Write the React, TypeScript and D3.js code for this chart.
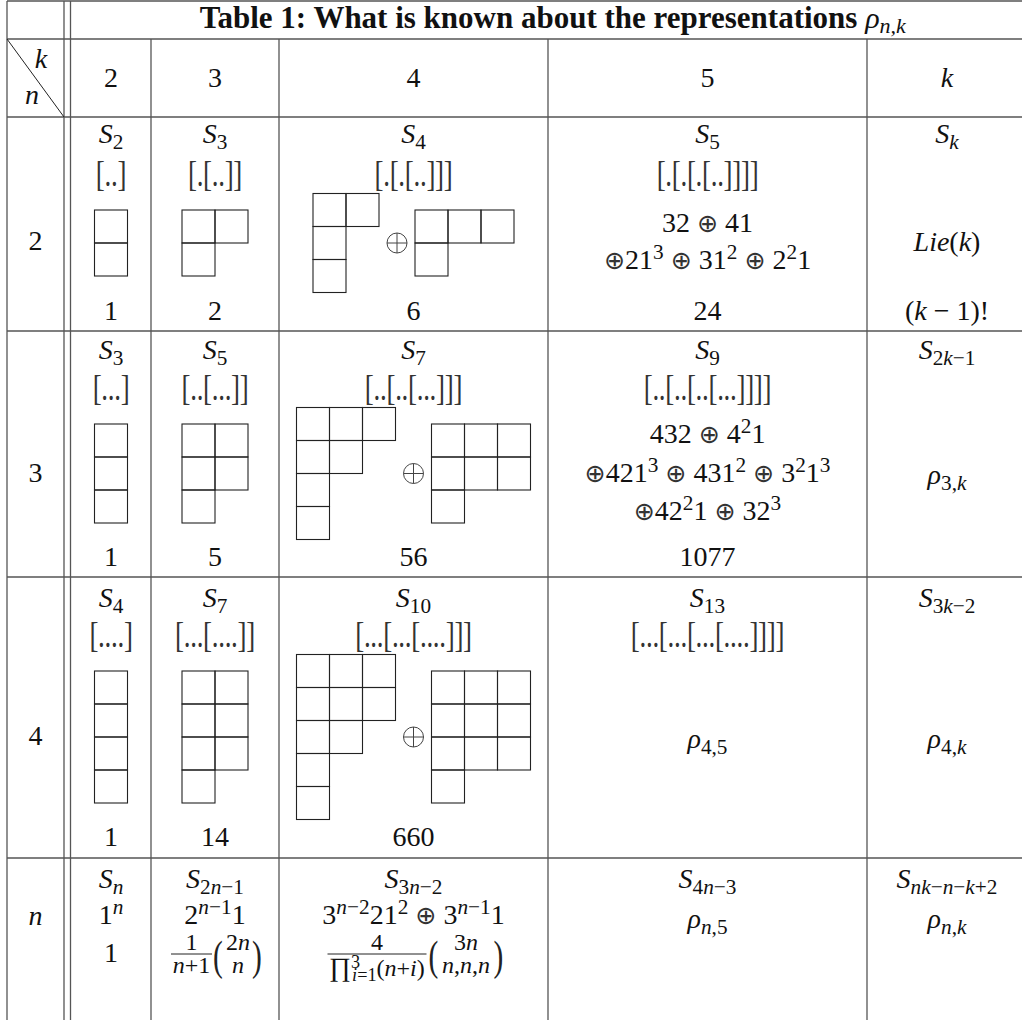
import React from "react";
import * as d3 from "d3";

// ---------- data ----------
const titleText = "Table 1: What is known about the representations ";
const titleMath = "ρ_{n,k}";
const colLabels = ["2", "3", "4", "5", "k"];
const rowLabels = ["2", "3", "4", "n"];
const groupLabels = [
  ["S_2", "S_3", "S_4", "S_5", "S_k"],
  ["S_3", "S_5", "S_7", "S_9", "S_{2k−1}"],
  ["S_4", "S_7", "S_{10}", "S_{13}", "S_{3k−2}"],
  ["S_n", "S_{2n−1}", "S_{3n−2}", "S_{4n−3}", "S_{nk−n−k+2}"],
];
const bracketWords = [
  ["[..]", "[.[..]]", "[.[.[..]]]", "[.[.[.[..]]]]"],
  ["[...]", "[..[...]]", "[..[..[...]]]", "[..[..[..[...]]]]"],
  ["[....]", "[...[....]]", "[...[...[....]]]", "[...[...[...[....]]]]"],
];
// Young diagrams (row lengths) for columns k = 2, 3, 4
const shapes: number[][][][] = [
  [[[1, 1]], [[2, 1]], [[2, 1, 1], [3, 1]]],
  [[[1, 1, 1]], [[2, 2, 1]], [[3, 2, 1, 1], [3, 3, 1]]],
  [[[1, 1, 1, 1]], [[2, 2, 2, 1]], [[3, 3, 2, 1, 1], [3, 3, 3, 1]]],
];
const dims = [
  ["1", "2", "6", "24", "(k − 1)!"],
  ["1", "5", "56", "1077", ""],
  ["1", "14", "660", "", ""],
];
const col5Lines = [
  ["32 ⊕ 41", "⊕21^3 ⊕ 31^2 ⊕ 2^21"],
  ["432 ⊕ 4^21", "⊕421^3 ⊕ 431^2 ⊕ 3^21^3", "⊕42^21 ⊕ 32^3"],
  ["ρ_{4,5}"],
];
const kColumn = ["Lie(k)", "ρ_{3,k}", "ρ_{4,k}"];
const generalRow = ["1^n", "2^{n−1}1", "3^{n−2}21^2 ⊕ 3^{n−1}1", "ρ_{n,5}", "ρ_{n,k}"];
const generalDim1 = "1";
const catalanNum = "1";
const catalanDen = "n+1";
const catalanTop = "2n";
const catalanBot = "n";
const triNum = "4";
const triTop = "3n";
const triBot = "n,n,n";

// ---------- layout ----------
const W = 1022;
const H = 1020;
const FONT = "'Liberation Serif', 'DejaVu Serif', serif";
const FS = 28;
const INK = "#111";
const LINE = "#555";
const xLines = [7, 64, 70.5, 151, 279, 548, 867, 1027];
const colX = [35.5, 111, 215, 413.5, 707.5, 947];
const yTop = 1, yTitle = 39, yHead = 117;
const rowTops = [117, 331, 577, 858];
const rowSBase = [143, 359, 607, 888];
const rowBrBase = [184, 398, 645];
const rowDiagC = [243, 473.5, 737];
const rowDimBase = [320, 566, 846];
const rowLabelBase = [250, 482, 745, 925];
const col5Base = [[232, 269], [443, 482, 520], [748]];
const kColBase = [251, 484, 748];
const BOX = 33;
const SCRIPT = 0.76;

type Seg = { t: string; it: boolean; lvl: number; dx?: number; fam?: string; big?: number };

function parse(s: string): Seg[] {
  const out: Seg[] = [];
  const push = (ch: string, lvl: number) => {
    const it = /[A-Za-zρ]/.test(ch);
    const op = ch === "⊕";
    const last = out[out.length - 1];
    if (last && !op && !last.fam && last.it === it && last.lvl === lvl) last.t += ch;
    else out.push({ t: ch, it, lvl, fam: op ? "'DejaVu Sans'" : undefined });
  };
  let i = 0;
  while (i < s.length) {
    const c = s[i];
    if (c === "_" || c === "^") {
      const lvl = c === "_" ? 1 : -1;
      i++;
      if (s[i] === "{") {
        const j = s.indexOf("}", i);
        for (const ch of s.slice(i + 1, j)) push(ch, lvl);
        i = j + 1;
      } else {
        push(s[i], lvl);
        i++;
      }
    } else {
      push(c, 0);
      i++;
    }
  }
  return out;
}

function Rich({ x, y, s, segs, size = FS, anchor = "middle" }: any) {
  const list: Seg[] = segs ?? parse(s);
  let cur = 0;
  return (
    <text x={x} y={y} fontSize={size} textAnchor={anchor} fontFamily={FONT} fill={INK}
      style={{ whiteSpace: "pre" }}>
      {list.map((g, k) => {
        const off = g.lvl === 1 ? 0.2 * size : g.lvl === -1 ? -0.34 * size : 0;
        const dy = off - cur;
        cur = off;
        const fs = g.lvl ? size * SCRIPT : g.fam ? size * 0.9 : g.big ? size * g.big : size;
        return (
          <tspan key={k} dy={dy} dx={g.dx} fontStyle={g.it ? "italic" : "normal"}
            fontSize={fs} fontFamily={g.fam} fill={g.fam ? "#333" : undefined}>
            {g.t}
          </tspan>
        );
      })}
    </text>
  );
}

function Diagram({ rows, x0, y0 }: { rows: number[]; x0: number; y0: number }) {
  const xs = d3.scaleLinear().domain([0, 1]).range([x0, x0 + BOX]);
  const ys = d3.scaleLinear().domain([0, 1]).range([y0, y0 + BOX]);
  const cells: [number, number][] = [];
  rows.forEach((len, i) => d3.range(len).forEach((j) => cells.push([i, j])));
  return (
    <g>
      {cells.map(([i, j]) => (
        <rect key={i + "-" + j} x={xs(j)} y={ys(i)} width={BOX} height={BOX}
          fill="none" stroke="#222" strokeWidth={1.1} />
      ))}
    </g>
  );
}

function Oplus({ cx, cy }: { cx: number; cy: number }) {
  const r = 10;
  const p = d3.path();
  p.moveTo(cx - r, cy); p.lineTo(cx + r, cy);
  p.moveTo(cx, cy - r); p.lineTo(cx, cy + r);
  return (
    <g stroke="#444" strokeWidth={1} fill="none">
      <circle cx={cx} cy={cy} r={r} />
      <path d={p.toString()} />
    </g>
  );
}

function DiagramCell({ list, cx, cy }: { list: number[][]; cx: number; cy: number }) {
  const widths = list.map((r) => d3.max(r)! * BOX);
  const heights = list.map((r) => r.length * BOX);
  const gap = 36;
  const total = d3.sum(widths) + gap * (list.length - 1);
  let x = cx - total / 2;
  const items: React.ReactNode[] = [];
  list.forEach((rows, k) => {
    items.push(<Diagram key={"d" + k} rows={rows} x0={x} y0={cy - heights[k] / 2} />);
    x += widths[k];
    if (k < list.length - 1) {
      items.push(<Oplus key={"o" + k} cx={x + gap / 2} cy={cy} />);
      x += gap;
    }
  });
  return <g>{items}</g>;
}

function Paren({ x, y, open }: { x: number; y: number; open: boolean }) {
  return (
    <text x={x} y={y} fontSize={42} textAnchor="middle" fontFamily={FONT} fill="#222"
      fontWeight="300"
      transform={`translate(${x},${y}) scale(0.7,1) translate(${-x},${-y})`}>
      {open ? "(" : ")"}
    </text>
  );
}

function Brackets({ x, y, s }: { x: number; y: number; s: string }) {
  const c = y - 7;
  return (
    <text x={x} y={y} fontSize={27} textAnchor="middle" fontFamily={FONT} fill="#333"
      letterSpacing={-0.3}
      transform={`translate(0,${c}) scale(1,1.3) translate(0,${-c})`}>
      {s}
    </text>
  );
}

export default function App() {
  const bigRows = [0, 1, 2];
  const fracFS = 24;
  const barY = 954;
  const c2 = colX[2], c3 = colX[3];
  return (
    <svg width={W} height={H} style={{ position: "absolute", left: 0, top: 0, background: "#fff" }}>
      {/* grid lines */}
      <g stroke={LINE} strokeWidth={1.3} fill="none">
        <line x1={xLines[0]} x2={W} y1={yTop} y2={yTop} />
        <line x1={xLines[0]} x2={W} y1={yTitle} y2={yTitle} />
        {rowTops.map((y) => (
          <line key={y} x1={xLines[0]} x2={W} y1={y} y2={y} />
        ))}
        {xLines.slice(0, 3).map((x) => (
          <line key={x} x1={x} x2={x} y1={yTop} y2={H} />
        ))}
        {xLines.slice(3).map((x) => (
          <line key={x} x1={x} x2={x} y1={yTitle} y2={H} />
        ))}
        <line x1={xLines[0]} y1={yTitle} x2={xLines[1]} y2={yHead} stroke="#222" strokeWidth={1} />
      </g>

      {/* title */}
      <text x={(xLines[2] + xLines[7]) / 2 + 4} y={28} fontSize={31} textAnchor="middle"
        fontFamily={FONT} fill={INK} style={{ whiteSpace: "pre" }}>
        <tspan fontWeight="bold">{titleText}</tspan>
        {parse(titleMath).map((g, k) => (
          <tspan key={k} fontStyle="italic" fontSize={g.lvl ? 22 : 30} dy={k === 0 ? 0 : k === 1 ? 5 : 0}>
            {g.t}
          </tspan>
        ))}
      </text>

      {/* corner */}
      <Rich x={41} y={68} s="k" />
      <Rich x={32} y={104} s="n" />

      {/* column header */}
      {colLabels.map((c, i) => (
        <Rich key={c} x={colX[i + 1]} y={87} s={c} />
      ))}

      {/* row labels */}
      {rowLabels.map((r, i) => (
        <Rich key={r} x={colX[0]} y={rowLabelBase[i]} s={r} />
      ))}

      {/* group labels */}
      {groupLabels.map((row, i) =>
        row.map((g, j) => <Rich key={i + "-" + j} x={colX[j + 1]} y={rowSBase[i]} s={g} />)
      )}

      {/* bracket words */}
      {bracketWords.map((row, i) =>
        row.map((b, j) => <Brackets key={i + "-" + j} x={colX[j + 1]} y={rowBrBase[i]} s={b} />)
      )}

      {/* Young diagrams */}
      {bigRows.map((i) =>
        shapes[i].map((list, j) => <DiagramCell key={i + "-" + j} list={list} cx={colX[j + 1]} cy={rowDiagC[i]} />)
      )}

      {/* dimensions */}
      {dims.map((row, i) =>
        row.map((d, j) => (d ? <Rich key={i + "-" + j} x={colX[j + 1]} y={rowDimBase[i]} s={d} /> : null))
      )}

      {/* column 5 decompositions */}
      {col5Lines.map((lines, i) =>
        lines.map((l, k) => <Rich key={i + "-" + k} x={colX[4]} y={col5Base[i][k]} s={l} />)
      )}

      {/* column k */}
      {kColumn.map((s, i) => (
        <Rich key={i} x={colX[5]} y={kColBase[i]} s={s} />
      ))}

      {/* general row */}
      {generalRow.map((s, j) => (
        <Rich key={j} x={colX[j + 1]} y={j < 3 ? 924 : 928} s={s} />
      ))}
      <Rich x={colX[1]} y={962} s={generalDim1} />

      {/* Catalan number */}
      <g>
        <line x1={c2 - 44} x2={c2 - 3} y1={barY} y2={barY} stroke="#222" strokeWidth={1} />
        <Rich x={c2 - 23.5} y={950} s={catalanNum} size={fracFS} />
        <Rich x={c2 - 23.5} y={973} s={catalanDen} size={fracFS} />
        <Paren x={c2 + 3} y={970} open />
        <Rich x={c2 + 23} y={950} s={catalanTop} size={fracFS} />
        <Rich x={c2 + 23} y={973} s={catalanBot} size={fracFS} />
        <Paren x={c2 + 42} y={970} open={false} />
      </g>

      {/* multinomial expression */}
      <g>
        <line x1={c3 - 86} x2={c3 + 13} y1={barY} y2={barY} stroke="#222" strokeWidth={1} />
        <Rich x={c3 - 36.5} y={950} s={triNum} size={fracFS} />
        <Rich
          x={c3 - 36.5}
          y={976}
          size={fracFS}
          segs={[
            { t: "∏", it: false, lvl: 0, big: 1.1 },
            { t: "3", it: false, lvl: -1 },
            { t: "i", it: true, lvl: 1, dx: -8 },
            { t: "=1", it: false, lvl: 1 },
            { t: "(", it: false, lvl: 0 },
            { t: "n", it: true, lvl: 0 },
            { t: "+", it: false, lvl: 0 },
            { t: "i", it: true, lvl: 0 },
            { t: ")", it: false, lvl: 0 },
          ]}
        />
        <Paren x={c3 + 20} y={970} open />
        <Rich x={c3 + 52.5} y={950} s={triTop} size={fracFS} />
        <Rich x={c3 + 52.5} y={973} s={triBot} size={fracFS} />
        <Paren x={c3 + 85} y={970} open={false} />
      </g>
    </svg>
  );
}
